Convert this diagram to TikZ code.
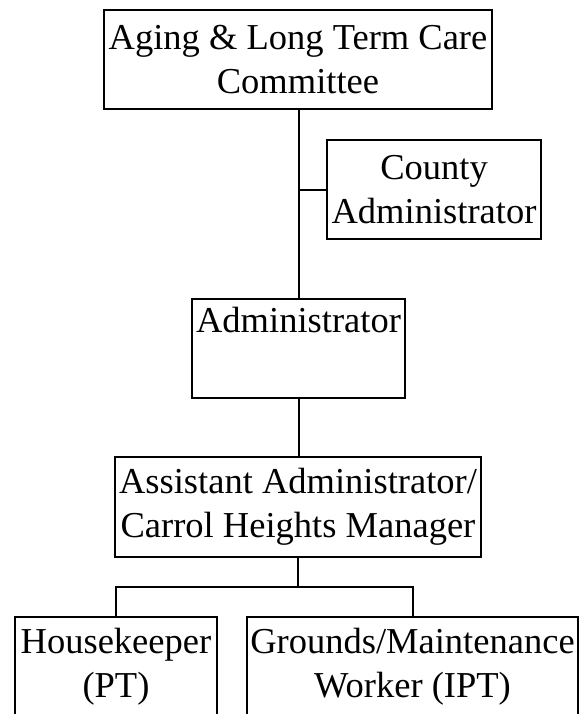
\documentclass[tikz,border=0pt]{standalone}
\usepackage{fontspec}
\setmainfont{Liberation Serif}
\begin{document}
\begin{tikzpicture}[x=1pt,y=-1pt,line width=2pt,
  box/.style={draw=black,line width=2pt,fill=white,inner sep=0pt,align=center,
    font=\fontsize{36.5}{44}\selectfont},
  link/.style={draw=black,line width=2pt}]
\clip (0,0) rectangle (580,714);
\fill[white] (0,0) rectangle (580,714);
\node[box,minimum width=388pt,minimum height=99pt] (top) at (298,59.5) {Aging \& Long Term Care\\Committee};
\node[box,minimum width=214pt,minimum height=99pt] (county) at (434,189.5) {County\\Administrator};
\node[box,minimum width=213pt,minimum height=99pt] (admin) at (298.5,348.5) {Administrator\\\strut};
\node[box,minimum width=366pt,minimum height=100pt] (asst) at (298,507) {Assistant Administrator/\\Carrol Heights Manager};
\node[box,minimum width=202pt,minimum height=99pt] (hk) at (116,666.5) {Housekeeper\\(PT)};
\node[box,minimum width=331pt,minimum height=99pt] (gw) at (412.5,666.5) {Grounds/Maintenance\\Worker (IPT)};
\coordinate (j) at (298,587);
\draw[link] (top.south -| admin.north) -- (admin.north);
\draw[link] (county.west) -- (county.west -| admin.north);
\draw[link] (admin.south) -- (admin.south |- asst.north);
\draw[link] (asst.south -| j) -- (j);
\draw[link] (hk.north) |- (j) -| (gw.north);
\end{tikzpicture}
\end{document}
